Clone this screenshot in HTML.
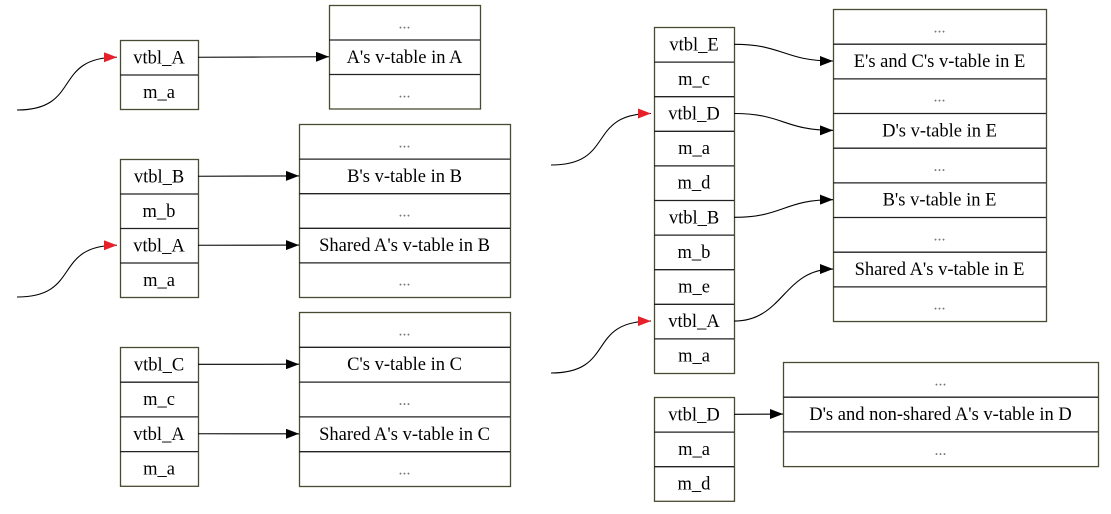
<!DOCTYPE html>
<html><head><meta charset="utf-8"><style>
html,body{margin:0;padding:0;background:#fff;}
svg{display:block;font-family:"Liberation Serif","DejaVu Serif",serif;}
text{font-family:"Liberation Serif","DejaVu Serif",serif;}
</style></head><body>
<svg id="d" width="1111" height="514" viewBox="0 0 1111 514" xmlns="http://www.w3.org/2000/svg">
<defs>
<marker id="ab" markerWidth="13" markerHeight="10" refX="13" refY="5" orient="auto" markerUnits="userSpaceOnUse"><path d="M0,0 L13,5 L0,10 z" fill="#000"/></marker>
<marker id="ar" markerWidth="13" markerHeight="10" refX="13" refY="5" orient="auto" markerUnits="userSpaceOnUse"><path d="M0,0 L13,5 L0,10 z" fill="#e8202a"/></marker>
</defs>
<g id="g"></g>
</svg>
<script>
const structs=[
 {name:'struct-a',x:120,y:40,w:78,h:34.5,rows:['vtbl_A','m_a']},
 {name:'struct-b',x:120,y:159,w:78,h:34.5,rows:['vtbl_B','m_b','vtbl_A','m_a']},
 {name:'struct-c',x:120,y:347,w:78,h:34.7,rows:['vtbl_C','m_c','vtbl_A','m_a']},
 {name:'struct-e',x:654,y:27,w:80,h:34.6,rows:['vtbl_E','m_c','vtbl_D','m_a','m_d','vtbl_B','m_b','m_e','vtbl_A','m_a']},
 {name:'struct-d',x:654,y:397,w:80,h:34.6,rows:['vtbl_D','m_a','m_d']}
];
const tables=[
 {name:'vtable-a',x:329,y:5,w:151,h:34.5,rows:['...',"A's v-table in A",'...']},
 {name:'vtable-b',x:299,y:124,w:211,h:34.6,rows:['...',"B's v-table in B",'...',"Shared A's v-table in B",'...']},
 {name:'vtable-c',x:299,y:312,w:211,h:34.8,rows:['...',"C's v-table in C",'...',"Shared A's v-table in C",'...']},
 {name:'vtable-e',x:833,y:9,w:213,h:34.67,rows:['...',"E's and C's v-table in E",'...',"D's v-table in E",'...',"B's v-table in E",'...',"Shared A's v-table in E",'...']},
 {name:'vtable-d',x:783,y:362,w:315,h:34.7,rows:['...',"D's and non-shared A's v-table in D",'...']}
];
const links=[[0,0,0,1],[1,0,1,1],[1,2,1,3],[2,0,2,1],[2,2,2,3],[3,0,3,1],[3,2,3,3],[3,5,3,5],[3,8,3,7],[4,0,4,1]];
const inbound=[[0,0,17,110],[1,2,17,297],[3,2,551,165],[3,8,551,373]];
const NS='http://www.w3.org/2000/svg',G=document.getElementById('g');
function el(t,a){const e=document.createElementNS(NS,t);for(const k in a)e.setAttribute(k,a[k]);G.appendChild(e);return e;}
function box(b){
 const r=el('rect',{x:b.x+.5,y:b.y+.5,width:b.w,height:b.h*b.rows.length,fill:'#fff',stroke:'#4a4a30','stroke-width':1.3});
 
 
 b.rows.forEach((t,i)=>{
  if(i>0){el('line',{x1:b.x,x2:b.x+b.w,y1:b.y+i*b.h+.5,y2:b.y+i*b.h+.5,stroke:'#222','stroke-width':1.3});}
  const dots=t==='...';
  const tx=el('text',{x:b.x+b.w/2,y:b.y+i*b.h+b.h/2+6,'text-anchor':'middle','font-family':'Liberation Serif, DejaVu Serif, serif','font-size':dots?16:18.5,fill:dots?'#777':'#000'});
  tx.textContent=t;
  
  
 });
}
structs.forEach(b=>box(b));tables.forEach(b=>box(b));
links.forEach(([s,sr,t,tr])=>{
 const S=structs[s],T=tables[t];
 const x1=S.x+S.w,y1=S.y+sr*S.h+S.h/2,x2=T.x,y2=T.y+tr*T.h+T.h/2,m=(x1+x2)/2;
 const p=el('path',{d:`M${x1},${y1} C${m},${y1} ${m},${y2} ${x2},${y2}`,fill:'none',stroke:'#000','stroke-width':1.1,'marker-end':'url(#ab)'});
 
 
});
inbound.forEach(([s,sr,x1,y1])=>{
 const S=structs[s],x2=S.x-3,y2=S.y+sr*S.h+S.h/2,m=(x1+x2)/2;
 const p=el('path',{d:`M${x1},${y1} C${m+15},${y1} ${m-15},${y2} ${x2},${y2}`,fill:'none',stroke:'#000','stroke-width':1.1,'marker-end':'url(#ar)'});
 
 
});
</script>
</body></html>
